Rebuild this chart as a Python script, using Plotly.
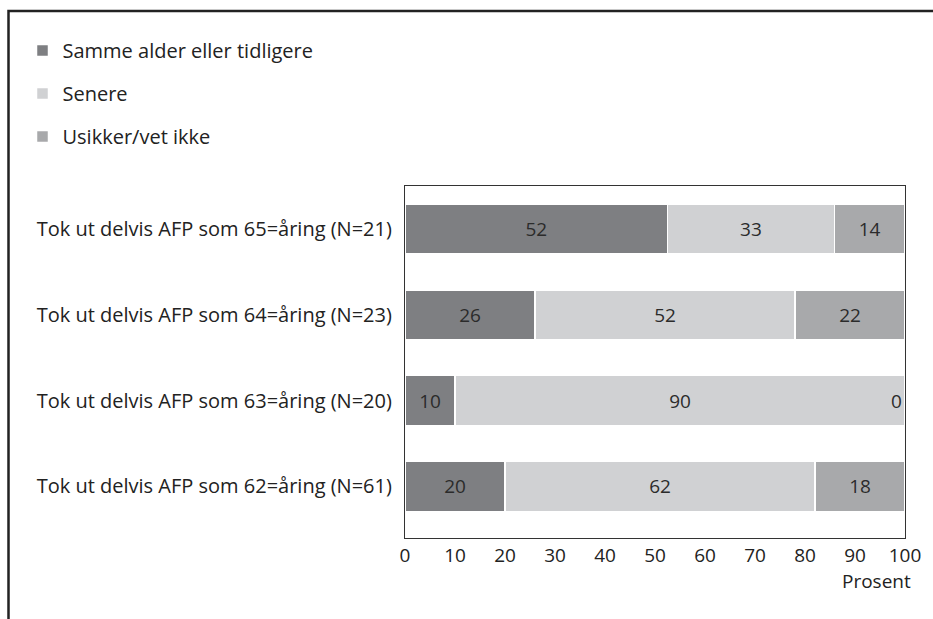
import plotly.graph_objects as go

# data (bottom row first, as plotly draws categories bottom-up)
groups = [
    "Tok ut delvis AFP som 62=åring (N=61)",
    "Tok ut delvis AFP som 63=åring (N=20)",
    "Tok ut delvis AFP som 64=åring (N=23)",
    "Tok ut delvis AFP som 65=åring (N=21)",
]
same_or_earlier = [20, 10, 26, 52]
later = [62, 90, 52, 33]
unsure = [18, 0, 22, 14]

series_names = ["Samme alder eller tidligere", "Senere", "Usikker/vet ikke"]
series_values = [same_or_earlier, later, unsure]
colors = ["#7e7f82", "#d0d1d3", "#a8a9ab"]

FONT = "Open Sans"
TXT = "#222"

fig = go.Figure()
for name, vals, col in zip(series_names, series_values, colors):
    fig.add_trace(go.Bar(
        y=groups,
        x=vals,
        orientation="h",
        name=name,
        legendgroup=name,
        marker=dict(color=col, line=dict(color="white", width=1.5)),
        text=[str(v) if v > 0 else "" for v in vals],
        textposition="inside",
        insidetextanchor="middle",
        textfont=dict(family=FONT, size=19, color="#2b2b2b"),
        hoverinfo="skip",
    ))

# zero-valued segments still get a label, tucked against the right edge
for i, g in enumerate(groups):
    for s in series_values:
        if s[i] == 0:
            fig.add_annotation(x=100, y=g, text=str(s[i]), showarrow=False,
                               xanchor="right", xshift=-1,
                               font=dict(family=FONT, size=19, color="#2b2b2b"))

# "Prosent" under the axis, right aligned
fig.add_annotation(x=1, y=-0.122, xref="paper", yref="paper", text="Prosent",
                   showarrow=False, xanchor="right", yanchor="middle", xshift=8,
                   font=dict(family=FONT, size=19, color=TXT))

# outer frame (only top and left are visible in the crop)
fig.add_shape(type="rect", xref="paper", yref="paper",
              x0=-0.793, x1=1.2, y0=-0.4, y1=1.497,
              line=dict(color="#222", width=2.5))

fig.update_layout(
    width=933, height=619,
    margin=dict(l=405, r=24, t=186, b=81),
    barmode="stack",
    barnorm="percent",
    bargap=0.42,
    paper_bgcolor="white",
    plot_bgcolor="white",
    font=dict(family=FONT, size=20, color=TXT),
    showlegend=True,
    legend=dict(
        x=-0.765, y=1.44, xanchor="left", yanchor="top",
        traceorder="grouped", tracegroupgap=14,
        font=dict(family=FONT, size=20, color=TXT),
        itemwidth=30, bgcolor="rgba(0,0,0,0)",
    ),
    xaxis=dict(
        range=[0, 100], dtick=10, showgrid=False, zeroline=False,
        showline=True, linecolor="#333", linewidth=1.2, mirror=True,
        ticks="", tickfont=dict(family=FONT, size=19, color=TXT),
        fixedrange=True,
    ),
    yaxis=dict(
        range=[-0.6, 3.5], showgrid=False, zeroline=False,
        showline=True, linecolor="#333", linewidth=1.2, mirror=True,
        ticks="", ticklabelstandoff=8,
        tickfont=dict(family=FONT, size=20, color=TXT),
        fixedrange=True,
    ),
)

# drop the default body margin so the 933x619 figure sits flush in the window
fig.write_html("out.html", config={"displayModeBar": False},
               post_script="document.body.style.margin='0';")
